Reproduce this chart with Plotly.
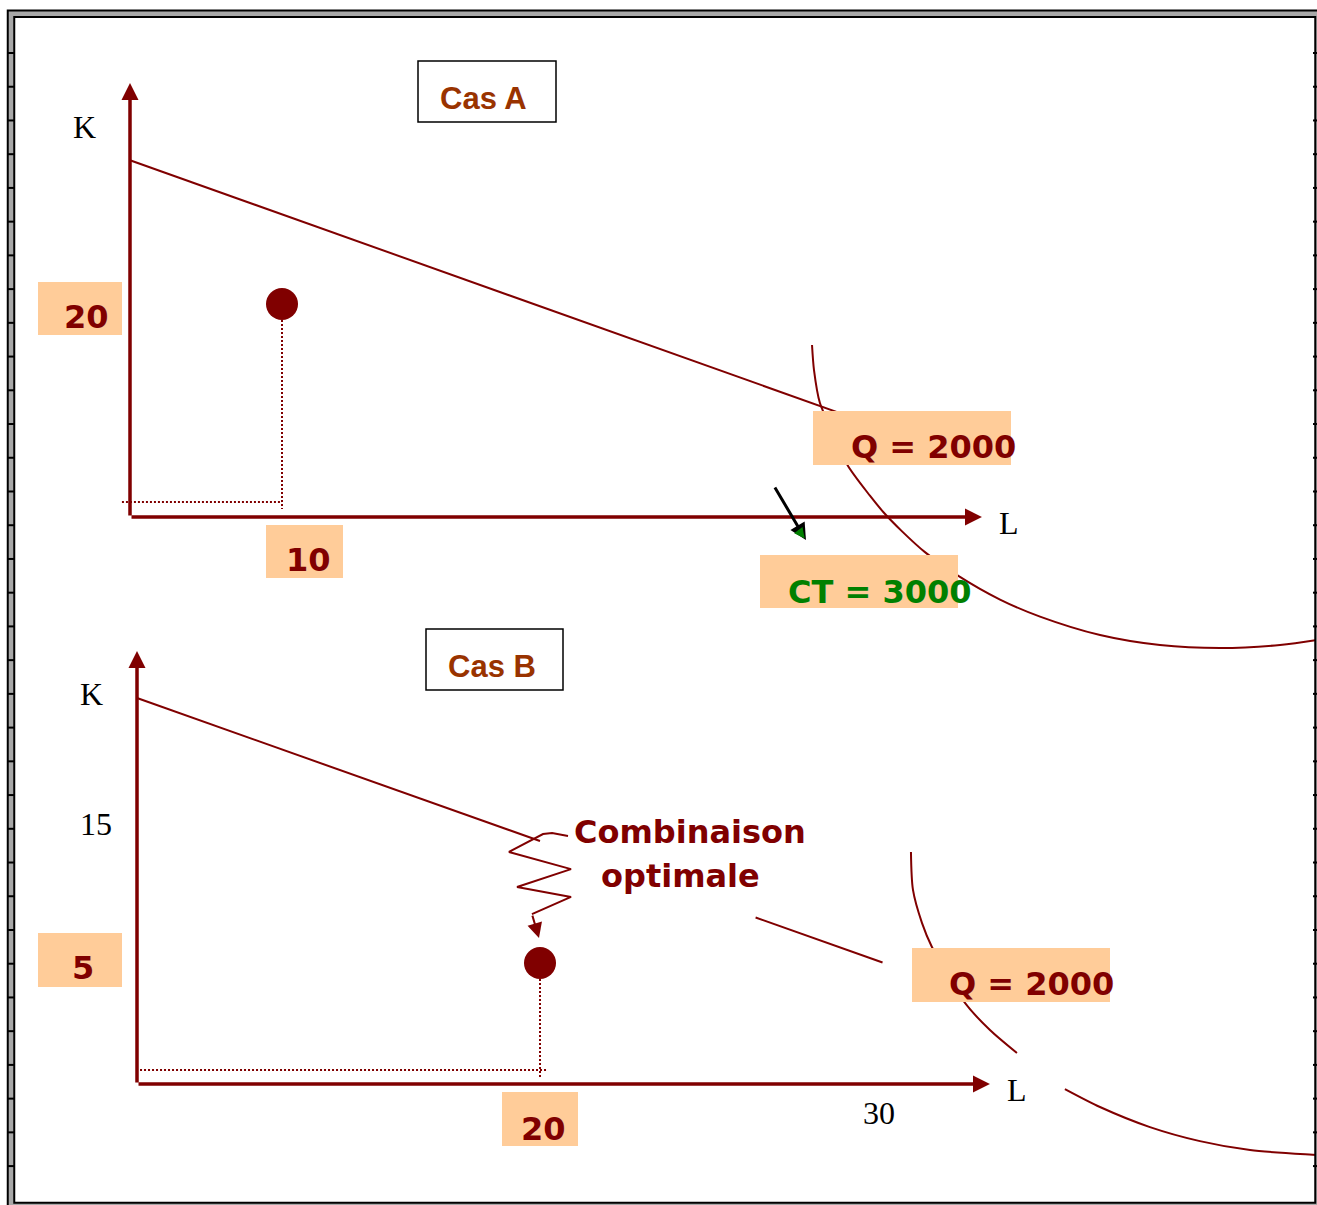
import plotly.graph_objects as go

W, H = 1317, 1205
MAROON = "#800000"
PEACH = "#FFCC99"

# ---------------- data (L = travail, K = capital) ----------------
# Cas A
pt_a_L = [10]
pt_a_K = [20]
isocost_a_L = [0, 48]
isocost_a_K = [33.5, 9.1]
isoquant_a_L = [44.87, 45.0, 45.39, 46.25, 47.2, 48.68, 49.6, 50.76, 52.30, 54.47,
                57.24, 59.87, 63.82, 67.76, 71.71, 75.66, 78.09, 79.6]
isoquant_a_K = [16.15, 13.80, 10.70, 7.9, 4.88, 2.0, 0.4, -1.3, -3.3, -5.5,
                -7.75, -9.35, -11.08, -12.02, -12.30, -12.02, -11.55, -11.17]
guide_a_K = 1.4          # dotted horizontal guide
guide_a_bottom = 0.75    # end of dotted vertical guide
axis_a_tip = (56.05, 40.75)
ct_arrow_L = [42.37, 44.47]
ct_arrow_K = [2.91, -2.16]

# Cas B
pt_b_L = [20]
pt_b_K = [5]
isocost_b_L = [0, 20, None, 30.7, 37.0]
isocost_b_K = [15.95, 10.04, None, 6.88, 5.02]
isoquant_b_L = [38.41, 38.51, 38.96, 39.45, 40.10, 41.09, 42.33, 43.67, None,
                46.05, 47.79, 50.27, 52.75, 55.24, 58.56, 59.3]
isoquant_b_K = [9.59, 8.02, 6.65, 5.66, 4.71, 3.35, 2.23, 1.28, None,
                -0.21, -0.95, -1.78, -2.36, -2.73, -2.93, -2.97]
guide_b_K = 0.58
guide_b_bottom = 0.25
axis_b_tip = (42.33, 17.89)
zigzag_L = [21.39, 20.60, 20.15, 18.46, 21.54, 18.86, 21.54, 19.60]
zigzag_K = [10.25, 10.37, 10.33, 9.59, 8.88, 8.14, 7.73, 7.02]
zigzag_tip = (19.95, 6.03)

# texts
titles = ["Cas A", "Cas B"]
axis_names = ["K", "L"]
box_ticks_a = ["20", "10"]
box_ticks_b = ["5", "20"]
plain_ticks_b = ["15", "30"]
iso_labels = ["Q = 2000", "CT = 3000"]
optimum_label = ["Combinaison", "optimale"]

# ---------------- page geometry (pixels) ----------------
ORIGIN_A, SCALE_A = (130, 517), (15.2, 10.65)
ORIGIN_B, SCALE_B = (137, 1084), (20.15, 24.2)


def ranges(origin, scale):
    ox, oy = origin
    sx, sy = scale
    return [-ox / sx, (W - ox) / sx], [(oy - H) / sy, oy / sy]


def px(x):
    return x / W


def py(y):
    return 1 - y / H


xr_a, yr_a = ranges(ORIGIN_A, SCALE_A)
xr_b, yr_b = ranges(ORIGIN_B, SCALE_B)

fig = go.Figure()

line = dict(color=MAROON, width=2)
curve = dict(color=MAROON, width=2, shape="spline", smoothing=0.8)
dotted = dict(color=MAROON, width=2, dash="2px,2px")

# Cas A traces
fig.add_trace(go.Scatter(x=isocost_a_L, y=isocost_a_K, mode="lines", line=line))
fig.add_trace(go.Scatter(x=isoquant_a_L, y=isoquant_a_K, mode="lines", line=curve))
fig.add_trace(go.Scatter(x=[pt_a_L[0], pt_a_L[0]], y=[pt_a_K[0], guide_a_bottom],
                         mode="lines", line=dotted))
fig.add_trace(go.Scatter(x=[-0.53, pt_a_L[0]], y=[guide_a_K, guide_a_K],
                         mode="lines", line=dotted))
fig.add_trace(go.Scatter(x=pt_a_L, y=pt_a_K, mode="markers",
                         marker=dict(size=32, color=MAROON)))

# Cas B traces
fig.add_trace(go.Scatter(x=isocost_b_L, y=isocost_b_K, mode="lines", line=line,
                         xaxis="x2", yaxis="y2"))
fig.add_trace(go.Scatter(x=isoquant_b_L, y=isoquant_b_K, mode="lines", line=curve,
                         xaxis="x2", yaxis="y2"))
fig.add_trace(go.Scatter(x=[pt_b_L[0], pt_b_L[0]], y=[pt_b_K[0], guide_b_bottom],
                         mode="lines", line=dotted, xaxis="x2", yaxis="y2"))
fig.add_trace(go.Scatter(x=[0.15, 20.35], y=[guide_b_K, guide_b_K],
                         mode="lines", line=dotted, xaxis="x2", yaxis="y2"))
fig.add_trace(go.Scatter(x=zigzag_L, y=zigzag_K, mode="lines", line=line,
                         xaxis="x2", yaxis="y2"))
fig.add_trace(go.Scatter(x=pt_b_L, y=pt_b_K, mode="markers",
                         marker=dict(size=32, color=MAROON), xaxis="x2", yaxis="y2"))


def arrow(tip, tail, ax, color, width, size, head=2, standoff=0):
    xr, yr = ("x", "y") if ax == "a" else ("x2", "y2")
    return dict(x=tip[0], y=tip[1], ax=tail[0], ay=tail[1], xref=xr, yref=yr,
                axref=xr, ayref=yr, text="", showarrow=True, arrowhead=head,
                arrowsize=size, arrowwidth=width, arrowcolor=color, standoff=standoff)


annotations = [
    arrow((0, axis_a_tip[1]), (0, 0), "a", MAROON, 3.5, 0.97),
    arrow((axis_a_tip[0], 0), (0, 0), "a", MAROON, 3.5, 0.97),
    arrow((0, axis_b_tip[1]), (0, 0), "b", MAROON, 3.5, 0.97),
    arrow((axis_b_tip[0], 0), (0, 0), "b", MAROON, 3.5, 0.97),
    arrow((ct_arrow_L[1], ct_arrow_K[1]), (ct_arrow_L[0], ct_arrow_K[0]), "a", "black", 3, 1.1),
    arrow((ct_arrow_L[1], ct_arrow_K[1]), (43.9, -1.1), "a", "#008000", 1.5, 1.4, standoff=2),
    arrow(zigzag_tip, (zigzag_L[-1], zigzag_K[-1]), "b", MAROON, 2, 1.5),
]

# boxes (pixel rectangles)
shapes = []


def rect(x0, y0, x1, y1, fill, lc=None, lw=0):
    shapes.append(dict(type="rect", xref="paper", yref="paper", layer="above",
                       x0=px(x0), x1=px(x1), y0=py(y0), y1=py(y1), fillcolor=fill,
                       line=dict(color=lc or fill, width=lw)))


rect(38, 282, 122, 335, PEACH)
rect(266, 525, 343, 578, PEACH)
rect(813, 411, 1011, 465, PEACH)
rect(760, 555, 958, 608, PEACH)
rect(38, 933, 122, 987, PEACH)
rect(502, 1092, 578, 1146, PEACH)
rect(912, 948, 1110, 1002, PEACH)
rect(418, 61, 556, 122, "white", "black", 1.5)
rect(426, 629, 563, 690, "white", "black", 1.5)

# page frame: double line with ticks
for lw, col in [(8.5, "black"), (4.5, "#a8a8a8")]:
    shapes.append(dict(type="rect", xref="paper", yref="paper", layer="above",
                       x0=px(11), x1=px(1318.5), y0=py(13.7), y1=py(1206),
                       line=dict(color=col, width=lw)))
for k in range(34):
    ty = 53 + 33.73 * k
    for x0, x1 in [(7, 15), (1313, 1320)]:
        shapes.append(dict(type="line", xref="paper", yref="paper", layer="above",
                           x0=px(x0), x1=px(x1), y0=py(ty), y1=py(ty),
                           line=dict(color="black", width=2)))


def label(text, cx, cy, color, family="DejaVu Sans", size=32, bold=True):
    annotations.append(dict(text=f"<b>{text}</b>" if bold else text, x=px(cx), y=py(cy),
                            xref="paper", yref="paper", xanchor="center", yanchor="middle",
                            showarrow=False, font=dict(family=family, size=size, color=color)))


serif = "Liberation Serif"
label(titles[0], 483.5, 98.5, "#993300", "Liberation Sans", 31)
label(titles[1], 491.5, 666.5, "#993300", "Liberation Sans", 31)
label(axis_names[0], 84.5, 127.5, "black", serif, 32, False)
label(axis_names[1], 1009.5, 523, "black", serif, 32, False)
label(axis_names[0], 91, 694.5, "black", serif, 32, False)
label(axis_names[1], 1017, 1089.5, "black", serif, 32, False)
label(box_ticks_a[0], 86.5, 317.5, MAROON)
label(box_ticks_a[1], 308, 560, MAROON)
label(box_ticks_b[0], 83, 967.5, MAROON)
label(box_ticks_b[1], 543, 1128.5, MAROON)
label(plain_ticks_b[0], 96, 824, "black", serif, 32, False)
label(plain_ticks_b[1], 878.5, 1112.5, "black", serif, 32, False)
label(iso_labels[0], 933.5, 447, MAROON)
label(iso_labels[1], 879.5, 591.5, "#008000")
label(iso_labels[0], 1031.5, 984, MAROON)
label(optimum_label[0], 689.5, 832, MAROON)
label(optimum_label[1], 680, 876, MAROON)

hidden = dict(visible=False, showgrid=False, zeroline=False, fixedrange=True)
fig.update_layout(
    width=W, height=H,
    margin=dict(l=0, r=0, t=0, b=0),
    paper_bgcolor="white", plot_bgcolor="rgba(0,0,0,0)",
    showlegend=False,
    xaxis=dict(hidden, range=xr_a, domain=[0, 1]),
    yaxis=dict(hidden, range=yr_a, domain=[0, 1]),
    xaxis2=dict(hidden, range=xr_b, overlaying="x", anchor="y2"),
    yaxis2=dict(hidden, range=yr_b, overlaying="y", anchor="x2"),
    shapes=shapes,
    annotations=annotations,
)

fig.write_html("out.html", config={"displayModeBar": False},
               post_script="document.body.style.margin='0px';")
